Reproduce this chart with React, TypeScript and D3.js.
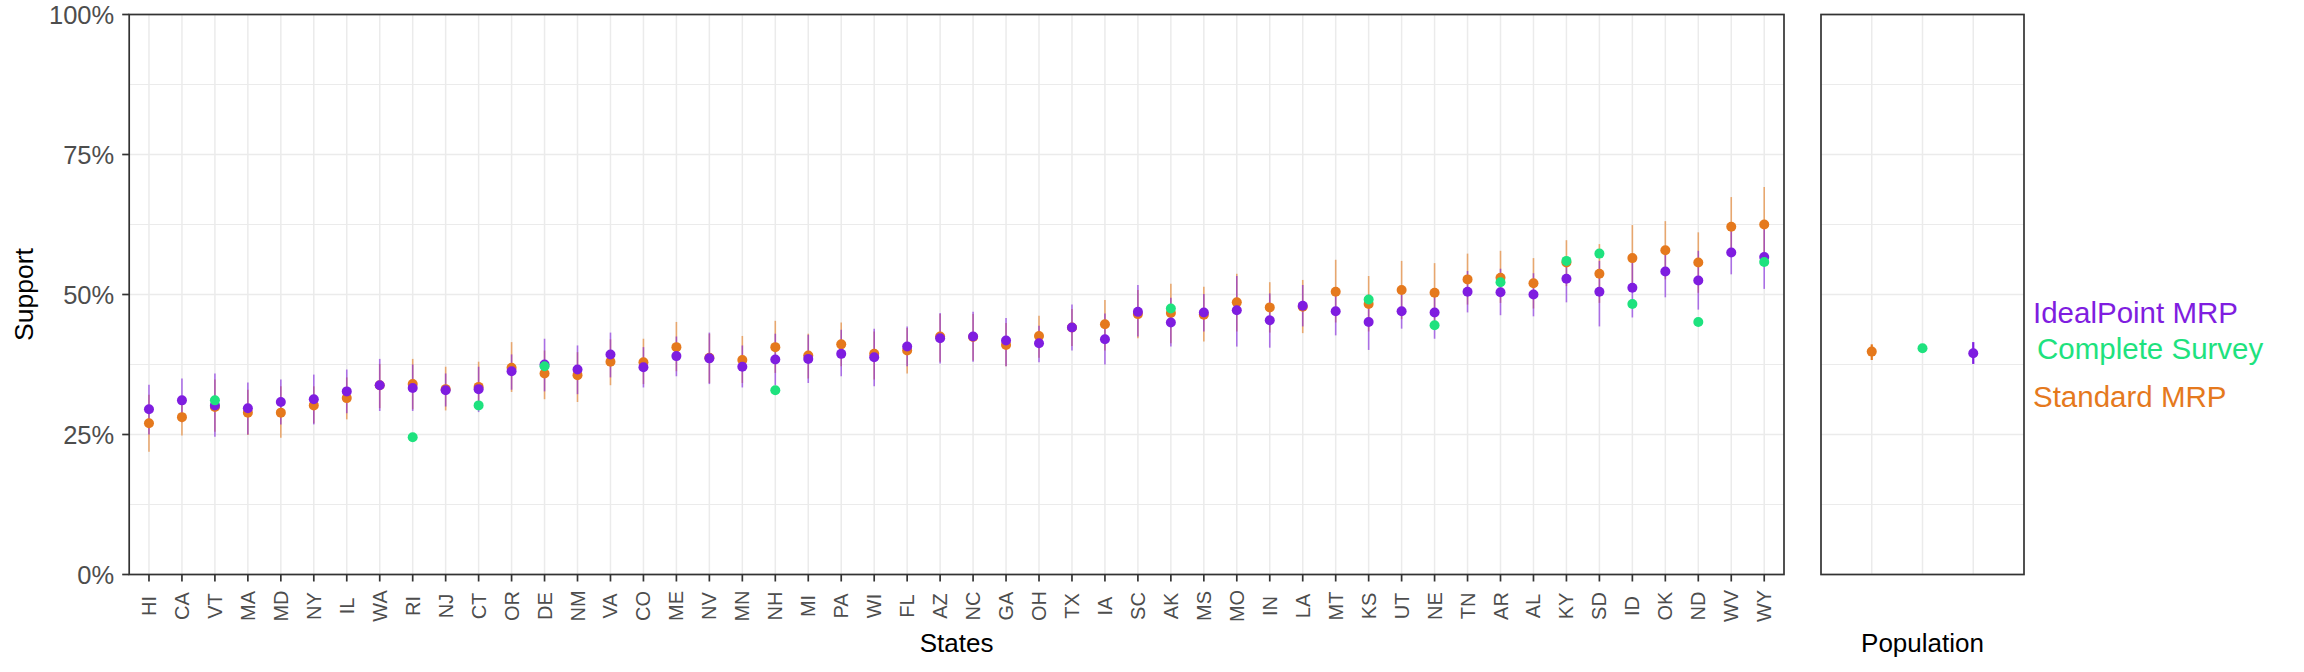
import * as d3 from 'd3';

// state order along the x axis
const states = ['HI', 'CA', 'VT', 'MA', 'MD', 'NY', 'IL', 'WA', 'RI', 'NJ', 'CT', 'OR', 'DE', 'NM', 'VA', 'CO', 'ME', 'NV', 'MN', 'NH',
    'MI', 'PA', 'WI', 'FL', 'AZ', 'NC', 'GA', 'OH', 'TX', 'IA', 'SC', 'AK', 'MS', 'MO', 'IN', 'LA', 'MT', 'KS', 'UT', 'NE',
    'TN', 'AR', 'AL', 'KY', 'SD', 'ID', 'OK', 'ND', 'WV', 'WY'];

// IdealPoint MRP estimate and interval
const idealMid = [0.295, 0.311, 0.302, 0.297, 0.308, 0.313, 0.327, 0.338, 0.333, 0.329, 0.331, 0.363, 0.375, 0.366, 0.393, 0.370, 0.390, 0.386, 0.371, 0.384,
    0.385, 0.394, 0.388, 0.407, 0.422, 0.425, 0.418, 0.413, 0.441, 0.420, 0.469, 0.450, 0.468, 0.472, 0.454, 0.480, 0.470, 0.451, 0.470, 0.468,
    0.505, 0.504, 0.500, 0.528, 0.505, 0.512, 0.541, 0.525, 0.575, 0.567];
const idealLo = [0.250, 0.272, 0.246, 0.250, 0.268, 0.268, 0.288, 0.292, 0.292, 0.300, 0.290, 0.330, 0.327, 0.322, 0.352, 0.334, 0.354, 0.340, 0.334, 0.338,
    0.342, 0.354, 0.336, 0.372, 0.377, 0.380, 0.372, 0.379, 0.400, 0.375, 0.425, 0.407, 0.434, 0.407, 0.405, 0.443, 0.427, 0.401, 0.439, 0.421,
    0.468, 0.463, 0.461, 0.486, 0.443, 0.459, 0.495, 0.473, 0.536, 0.510];
const idealHi = [0.339, 0.350, 0.359, 0.343, 0.348, 0.357, 0.366, 0.385, 0.375, 0.359, 0.371, 0.393, 0.421, 0.409, 0.432, 0.406, 0.425, 0.432, 0.409, 0.430,
    0.428, 0.437, 0.439, 0.443, 0.467, 0.469, 0.458, 0.444, 0.482, 0.466, 0.517, 0.494, 0.501, 0.533, 0.502, 0.517, 0.512, 0.500, 0.508, 0.511,
    0.542, 0.546, 0.538, 0.568, 0.560, 0.562, 0.586, 0.578, 0.614, 0.624];

// Standard MRP estimate and interval
const standardMid = [0.270, 0.281, 0.299, 0.289, 0.289, 0.302, 0.315, 0.338, 0.340, 0.331, 0.335, 0.369, 0.359, 0.356, 0.380, 0.379, 0.406, 0.387, 0.383, 0.406,
    0.391, 0.411, 0.394, 0.400, 0.425, 0.424, 0.410, 0.426, 0.441, 0.447, 0.465, 0.467, 0.464, 0.486, 0.477, 0.478, 0.505, 0.483, 0.508, 0.503,
    0.527, 0.530, 0.520, 0.557, 0.537, 0.565, 0.579, 0.557, 0.621, 0.625];
const standardLo = [0.219, 0.248, 0.255, 0.249, 0.244, 0.270, 0.277, 0.297, 0.295, 0.293, 0.295, 0.326, 0.313, 0.308, 0.338, 0.340, 0.363, 0.342, 0.342, 0.360,
    0.350, 0.372, 0.348, 0.359, 0.380, 0.382, 0.372, 0.387, 0.408, 0.400, 0.422, 0.413, 0.416, 0.434, 0.432, 0.431, 0.450, 0.434, 0.456, 0.450,
    0.482, 0.485, 0.475, 0.515, 0.485, 0.508, 0.527, 0.503, 0.570, 0.558];
const standardHi = [0.321, 0.314, 0.348, 0.330, 0.336, 0.336, 0.352, 0.376, 0.385, 0.371, 0.380, 0.415, 0.400, 0.397, 0.420, 0.421, 0.451, 0.430, 0.426, 0.453,
    0.430, 0.450, 0.434, 0.440, 0.465, 0.465, 0.449, 0.462, 0.474, 0.490, 0.508, 0.519, 0.514, 0.537, 0.522, 0.526, 0.562, 0.533, 0.560, 0.556,
    0.573, 0.578, 0.565, 0.597, 0.590, 0.624, 0.631, 0.611, 0.674, 0.692];

// Complete Survey, only where it shows
const surveyMid: (number | null)[] = [null, null, 0.311, null, null, null, null, null, 0.245, null, 0.302, null, 0.372, null, null, null, null, null, null, 0.329,
    null, null, null, null, null, null, null, null, null, null, null, 0.475, null, null, null, null, null, 0.491, null, 0.445,
    null, 0.522, null, 0.560, 0.573, 0.483, null, 0.451, null, 0.558];

// population panel
const popGroups = ['Standard MRP', 'Complete Survey', 'IdealPoint MRP'];
const popMid = [0.398, 0.404, 0.395];
const popLo: (number | null)[] = [0.383, null, 0.376];
const popHi: (number | null)[] = [0.411, null, 0.415];

const yTicks = [0, 0.25, 0.5, 0.75, 1];
const yMinor = [0.125, 0.375, 0.625, 0.875];
const legendLabels = ['IdealPoint MRP', 'Complete Survey', 'Standard MRP'];

const colors: Record<string, string> = {
    'IdealPoint MRP': '#7f1de0',
    'Complete Survey': '#1ee27e',
    'Standard MRP': '#e5791d'
};

const font = '"Liberation Sans", Arial, sans-serif';
const gridColor = '#ebebeb';
const axisColor = '#333333';

const App = () => {
    const width = 2304, height = 672;
    const top = 14.5, bottom = 574.5;

    const y = d3.scaleLinear().domain([0, 1]).range([bottom, top]);
    const x = d3.scalePoint<string>().domain(states).range([129.2, 1784]).padding(0.6);
    const xp = d3.scalePoint<string>().domain(popGroups).range([1821, 2024]).padding(1);

    const [x0, x1] = x.range();
    const [p0, p1] = xp.range();

    const errBar = (cx: number, lo: number, hi: number, color: string, key: string, opacity = 0.6, w = 1.6) =>
        <line key={key} x1={cx} x2={cx} y1={y(lo)} y2={y(hi)} stroke={color} strokeWidth={w} strokeOpacity={opacity} />

    const grid = (a: number, b: number, xs: number[]) => (
        <g>
            {yMinor.map(t => <line key={'mn' + t} x1={a} x2={b} y1={y(t)} y2={y(t)} stroke={gridColor} strokeWidth={1} />)}
            {yTicks.map(t => <line key={'mj' + t} x1={a} x2={b} y1={y(t)} y2={y(t)} stroke={gridColor} strokeWidth={1.5} />)}
            {xs.map((v, i) => <line key={'v' + i} x1={v} x2={v} y1={top} y2={bottom} stroke={gridColor} strokeWidth={1.5} />)}
        </g>
    )

    return (
        <div style={{position: 'absolute', left: 0, top: 0}}>
            <svg width={width} height={height} style={{display: 'block', background: '#fff'}} fontFamily={font}>
                {/* main panel */}
                {grid(x0, x1, states.map(s => x(s)!))}

                {states.map((s, i) => errBar(x(s)!, standardLo[i], standardHi[i], colors['Standard MRP'], 'se' + s))}
                {states.map((s, i) => errBar(x(s)!, idealLo[i], idealHi[i], colors['IdealPoint MRP'], 'ie' + s))}
                {states.map((s, i) => <circle key={'sp' + s} cx={x(s)} cy={y(standardMid[i])} r={5} fill={colors['Standard MRP']} />)}
                {states.map((s, i) => <circle key={'ip' + s} cx={x(s)} cy={y(idealMid[i])} r={5} fill={colors['IdealPoint MRP']} />)}
                {states.map((s, i) => surveyMid[i] === null ? null :
                    <circle key={'cp' + s} cx={x(s)} cy={y(surveyMid[i] as number)} r={5} fill={colors['Complete Survey']} />)}

                <rect x={x0} y={top} width={x1 - x0} height={bottom - top} fill="none" stroke={axisColor} strokeWidth={1.7} />

                {/* y axis */}
                {yTicks.map(t => (
                    <g key={'yt' + t}>
                        <line x1={x0 - 7} x2={x0} y1={y(t)} y2={y(t)} stroke={axisColor} strokeWidth={1.7} />
                        <text x={x0 - 15} y={y(t)} textAnchor="end" dominantBaseline="central" fontSize={25.5} fill="#4d4d4d">{d3.format('.0%')(t)}</text>
                    </g>
                ))}

                {/* x axis */}
                {states.map(s => (
                    <g key={'xt' + s}>
                        <line x1={x(s)} x2={x(s)} y1={bottom} y2={bottom + 7} stroke={axisColor} strokeWidth={1.7} />
                        <text transform={`translate(${x(s)},606) rotate(-90)`} textAnchor="middle" dominantBaseline="central" fontSize={20} fill="#4d4d4d">{s}</text>
                    </g>
                ))}

                <text x={(x0 + x1) / 2} y={652} textAnchor="middle" fontSize={26} fill="#000">States</text>
                <text transform={`translate(33,${(top + bottom) / 2}) rotate(-90)`} textAnchor="middle" fontSize={26.5} fill="#000">Support</text>

                {/* population panel */}
                {grid(p0, p1, popGroups.map(g => xp(g)!))}
                {popGroups.map((g, i) => popLo[i] === null ? null :
                    errBar(xp(g)!, popLo[i] as number, popHi[i] as number, colors[g], 'pe' + g, 1, 2.2))}
                {popGroups.map((g, i) => <circle key={'pp' + g} cx={xp(g)} cy={y(popMid[i])} r={5} fill={colors[g]} />)}
                <rect x={p0} y={top} width={p1 - p0} height={bottom - top} fill="none" stroke={axisColor} strokeWidth={1.7} />
                <text x={(p0 + p1) / 2} y={652} textAnchor="middle" fontSize={26} fill="#000">Population</text>

                {/* labels standing in for a legend */}
                {legendLabels.map((l, i) => (
                    <text key={l} x={[2033, 2037, 2033][i]} y={[323, 359, 407][i]} fontSize={29.5} fill={colors[l]}>{l}</text>
                ))}
            </svg>
        </div>
    )
}

export default App
